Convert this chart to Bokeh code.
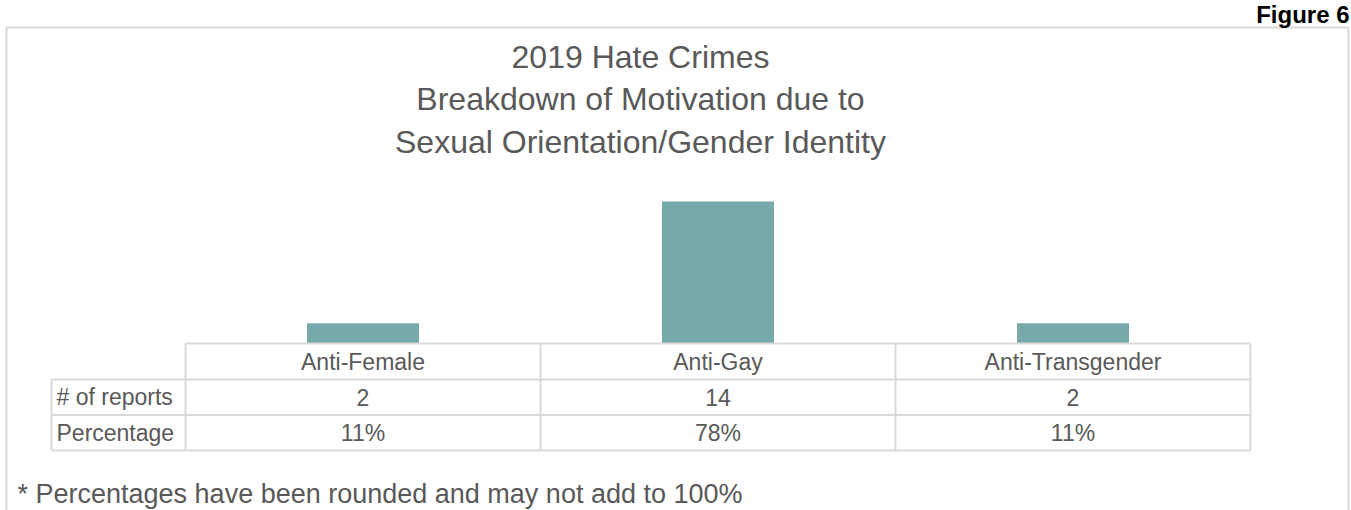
from bokeh.plotting import figure
from bokeh.models import Range1d
from bokeh.core.properties import value
from bokeh.embed import file_html
from bokeh.resources import INLINE

# ---------------- data ----------------
CATEGORIES = ["Anti-Female", "Anti-Gay", "Anti-Transgender"]
REPORTS = [2, 14, 2]
PERCENTAGES = ["11%", "78%", "11%"]
ROW_LABELS = ["# of reports", "Percentage"]
TITLE_LINES = ["2019 Hate Crimes",
               "Breakdown of Motivation due to",
               "Sexual Orientation/Gender Identity"]
FOOTNOTE = "* Percentages have been rounded and may not add to 100%"
FIGURE_LABEL = "Figure 6"

# ---------------- layout (picture pixels) ----------------
W, H = 1351, 510
OX, OY = 0, 0
COL_W = 355.0          # width of one category column
X0_PX = 362.5          # centre of first category column
BASE_PX = 343.0        # zero line of the bars
PX_PER_UNIT = 142.0 / 14.0
ROW_PX = [343.0, 379.0, 414.5, 450.0]
LABEL_LEFT_PX = 51.0

FONT = "Liberation Sans"
TXT = "#595959"
GRID = "#d9d9d9"
BAR = "#77a9aa"


def xd(px):
    return (px - X0_PX) / COL_W


def yd(py):
    return (BASE_PX - py) / PX_PER_UNIT


p = figure(width=W, height=H,
           x_range=Range1d(xd(OX), xd(OX + W)),
           y_range=Range1d(yd(OY + H), yd(OY)),
           output_backend="svg", toolbar_location=None,
           x_axis_location=None, y_axis_location=None,
           min_border=0, tools="")
p.xgrid.visible = False
p.ygrid.visible = False
p.outline_line_color = None
p.background_fill_color = "white"
p.border_fill_color = "white"

n = len(CATEGORIES)
idx = list(range(n))

# outer frame (left, top, right sides)
top_b = yd(27)
p.segment(x0=[xd(6), xd(6), xd(1348)], y0=[yd(530), top_b, top_b],
          x1=[xd(6), xd(1348), xd(1348)], y1=[top_b, top_b, yd(530)],
          line_color=GRID, line_width=2)

# bars
p.vbar(x=idx, top=REPORTS, bottom=0, width=112.0 / COL_W,
       fill_color=BAR, line_color=None)

# data table grid
left_cat = -0.5
right_cat = n - 0.5
lab_left = xd(LABEL_LEFT_PX)
hx0 = [left_cat] + [lab_left] * 3
hx1 = [right_cat] * 4
hy = [yd(r) for r in ROW_PX]
p.segment(x0=hx0, y0=hy, x1=hx1, y1=hy, line_color=GRID, line_width=2)
vx = [i - 0.5 for i in range(n + 1)]
p.segment(x0=vx, y0=[yd(ROW_PX[0])] * len(vx), x1=vx, y1=[yd(ROW_PX[-1])] * len(vx),
          line_color=GRID, line_width=2)
p.segment(x0=[lab_left], y0=[yd(ROW_PX[1])], x1=[lab_left], y1=[yd(ROW_PX[-1])],
          line_color=GRID, line_width=2)

row_mid = [yd((ROW_PX[i] + ROW_PX[i + 1]) / 2) for i in range(3)]

common = dict(text_font=value(FONT), text_font_size="23px", text_color=TXT,
              text_baseline="middle")
p.text(x=idx, y=[row_mid[0]] * n, text=CATEGORIES, text_align="center", **common)
p.text(x=idx, y=[row_mid[1]] * n, text=[str(v) for v in REPORTS], text_align="center", **common)
p.text(x=idx, y=[row_mid[2]] * n, text=PERCENTAGES, text_align="center", **common)
p.text(x=[xd(56)] * len(ROW_LABELS), y=row_mid[1:], text=ROW_LABELS, text_align="left", **common)

# title (centres of each line)
title_mid = [56.0, 98.5, 141.0]
p.text(x=[xd(640)] * len(TITLE_LINES), y=[yd(b) for b in title_mid], text=TITLE_LINES,
       text_font=value(FONT), text_font_size="32px", text_color=TXT,
       text_align="center", text_baseline="middle")

# footnote
p.text(x=[xd(17)], y=[yd(493)], text=[FOOTNOTE],
       text_font=value(FONT), text_font_size="27px", text_color=TXT,
       text_align="left", text_baseline="middle")

# figure label
p.text(x=[xd(1349)], y=[yd(14)], text=[FIGURE_LABEL],
       text_font=value(FONT), text_font_size="24px", text_font_style="bold",
       text_color="black", text_align="right", text_baseline="middle")

open("out.html", "w").write(file_html(p, INLINE))
